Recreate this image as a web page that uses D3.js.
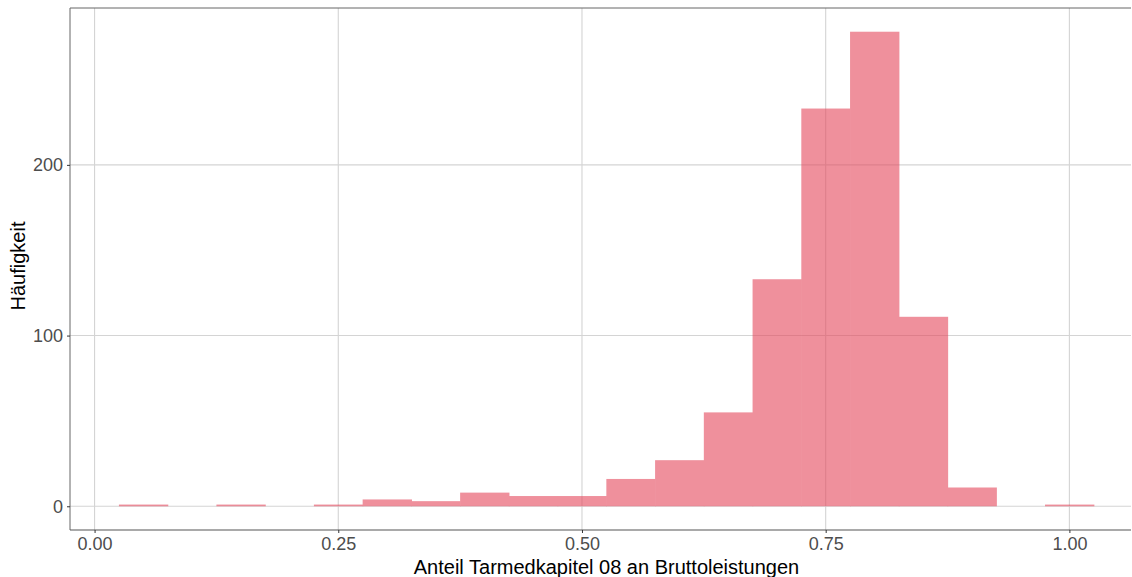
<!DOCTYPE html>
<html>
<head>
<meta charset="utf-8">
<script src="https://cdn.jsdelivr.net/npm/d3@7"></script>
<style>
  html, body { margin: 0; padding: 0; background: #fff; }
  svg { display: block; }
</style>
</head>
<body>
<svg id="chart" width="1132" height="577"></svg>
<script>
// Histogram bins (centers, width 0.05) and counts
const binCenters = [0.00, 0.05, 0.10, 0.15, 0.20, 0.25, 0.30, 0.35, 0.40, 0.45, 0.50, 0.55, 0.60, 0.65, 0.70, 0.75, 0.80, 0.85, 0.90, 0.95, 1.00];
const counts     = [0,    1,    0,    1,    0,    1,    4,    3,    8,    6,    6,    16,   27,   55,   133,  233,  278,  111,  11,   0,    1];
const binWidth = 0.05;
const xTicks = [0.00, 0.25, 0.50, 0.75, 1.00];
const yTicks = [0, 100, 200];
const xTitle = "Anteil Tarmedkapitel 08 an Bruttoleistungen";
const yTitle = "Häufigkeit";

const svg = d3.select("#chart");
const panel = { left: 70, right: 1131, top: 8, bottom: 530 };

const x = d3.scaleLinear().domain([-0.0252, 1.0632]).range([panel.left, panel.right]);
const y = d3.scaleLinear().domain([-13.9, 291.9]).range([panel.bottom, panel.top]);

const font = "Arial, 'Liberation Sans', sans-serif";

// gridlines
const g = svg.append("g");
g.selectAll(".gx").data(xTicks).enter().append("line")
  .attr("x1", d => x(d)).attr("x2", d => x(d))
  .attr("y1", panel.top).attr("y2", panel.bottom)
  .attr("stroke", "#d4d4d4").attr("stroke-width", 1.1);
g.selectAll(".gy").data(yTicks).enter().append("line")
  .attr("x1", panel.left).attr("x2", panel.right)
  .attr("y1", d => y(d)).attr("y2", d => y(d))
  .attr("stroke", "#d4d4d4").attr("stroke-width", 1.1);

// bars (opaque inside a translucent group so adjacent bars leave no seams)
const data = binCenters.map((c, i) => ({ c, n: counts[i] })).filter(d => d.n > 0);
svg.append("g").attr("opacity", 0.6).selectAll("rect").data(data).enter().append("rect")
  .attr("x", d => x(d.c - binWidth / 2))
  .attr("width", d => x(d.c + binWidth / 2) - x(d.c - binWidth / 2) + 0.6)
  .attr("y", d => y(d.n))
  .attr("height", d => y(0) - y(d.n))
  .attr("fill", "#E5485C");

// panel border (left, top, bottom)
svg.append("path")
  .attr("d", `M${panel.left},${panel.bottom}V${panel.top}H${panel.right}`)
  .attr("fill", "none").attr("stroke", "#666").attr("stroke-width", 1);
svg.append("line")
  .attr("x1", panel.left).attr("x2", panel.right)
  .attr("y1", panel.bottom).attr("y2", panel.bottom)
  .attr("stroke", "#555").attr("stroke-width", 1.2);

// axes
const xAxis = d3.axisBottom(x).tickValues(xTicks).tickFormat(d3.format(".2f")).tickSize(3).tickPadding(4);
const yAxis = d3.axisLeft(y).tickValues(yTicks).tickFormat(d3.format("d")).tickSize(3).tickPadding(4);

const gx = svg.append("g").attr("transform", `translate(0,${panel.bottom})`).call(xAxis);
const gy = svg.append("g").attr("transform", `translate(${panel.left},0)`).call(yAxis);
[gx, gy].forEach(a => {
  a.select(".domain").remove();
  a.selectAll(".tick line").attr("stroke", "#333");
  a.selectAll(".tick text").attr("fill", "#4d4d4d").style("font-family", font).style("font-size", "18px");
});

// titles
svg.append("text")
  .attr("x", (panel.left + panel.right) / 2 + 6).attr("y", 574)
  .attr("text-anchor", "middle")
  .style("font-family", font).style("font-size", "20px").attr("fill", "#000")
  .text(xTitle);
svg.append("text")
  .attr("transform", `translate(25,${(panel.top + panel.bottom) / 2 - 3}) rotate(-90)`)
  .attr("text-anchor", "middle")
  .style("font-family", font).style("font-size", "20px").attr("fill", "#000")
  .text(yTitle);
</script>
</body>
</html>
